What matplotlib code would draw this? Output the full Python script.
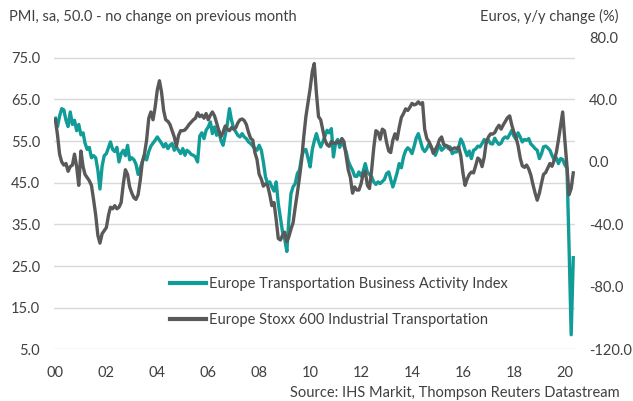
import matplotlib
matplotlib.use('Agg')
import matplotlib.pyplot as plt
import matplotlib.dates as mdates
from matplotlib.ticker import FormatStrFormatter
import numpy as np
import pandas as pd

# monthly data, Jan 2000 - May 2020
pmi = [
    60.5, 58.5, 61.0, 62.8, 62.5, 60.0, 58.5, 62.0, 59.0, 60.0, 57.5, 59.0,  # 2000
    56.5, 57.0, 54.5, 53.0, 53.5, 51.0, 51.5, 51.0, 48.0, 43.5, 49.0, 51.5,  # 2001
    52.0, 53.5, 54.8, 53.0, 52.5, 53.5, 50.0, 52.0, 52.8, 51.5, 54.0, 50.5,  # 2002
    51.0, 50.5, 49.5, 47.0, 48.5, 50.0, 51.5, 50.5, 52.5, 53.8, 54.5, 55.2,  # 2003
    56.0, 55.2, 54.5, 53.6, 54.4, 53.2, 54.0, 54.4, 52.8, 53.6, 52.8, 52.0,  # 2004
    53.2, 51.6, 52.8, 52.4, 51.8, 51.6, 51.2, 50.0, 56.2, 57.0, 55.6, 57.6,  # 2005
    58.4, 59.6, 56.8, 58.4, 56.4, 57.6, 55.2, 54.0, 56.4, 59.0, 62.8, 60.0,  # 2006
    58.0, 57.2, 56.4, 56.0, 56.8, 56.0, 55.6, 54.8, 54.4, 53.8, 53.2, 52.8,  # 2007
    54.0, 52.8, 50.0, 46.4, 44.8, 45.2, 44.0, 43.0, 45.2, 40.0, 36.5, 33.2,  # 2008
    31.5, 28.5, 36.0, 42.4, 44.0, 44.8, 47.2, 48.0, 51.2, 52.8, 53.0, 51.0,  # 2009
    48.8, 53.0, 55.0, 56.8, 55.0, 53.6, 54.8, 56.2, 57.6, 57.0, 58.0, 51.2,  # 2010
    54.6, 55.4, 53.5, 54.8, 53.8, 52.5, 50.2, 49.0, 48.0, 46.6, 46.5, 47.6,  # 2011
    46.6, 47.8, 49.6, 47.5, 47.0, 46.4, 45.2, 44.6, 45.2, 44.8, 45.3, 45.8,  # 2012
    47.2, 47.6, 45.8, 44.0, 45.6, 47.4, 49.6, 48.6, 51.2, 52.7, 53.4, 52.9,  # 2013
    52.0, 53.8, 55.7, 56.8, 55.0, 53.2, 52.5, 53.2, 54.3, 53.5, 52.8, 51.6,  # 2014
    53.0, 54.0, 52.8, 53.3, 54.0, 53.3, 53.6, 52.0, 52.4, 52.4, 53.6, 55.5,  # 2015
    54.5, 52.8, 51.5, 52.6, 50.8, 52.8, 53.1, 53.8, 53.6, 54.4, 55.4, 54.6,  # 2016
    55.2, 54.4, 54.3, 55.7, 54.8, 54.2, 54.5, 55.6, 56.0, 55.7, 56.6, 57.6,  # 2017
    56.2, 55.4, 57.0, 56.0, 54.8, 55.4, 55.2, 55.6, 54.3, 53.8, 53.2, 52.8,  # 2018
    50.8, 52.0, 53.6, 53.8, 53.4, 52.8, 51.6, 50.5, 51.0, 49.6, 50.8, 50.6,  # 2019
    49.3, 48.5, 30.0, 8.5, 27.0,                                             # 2020
]

stoxx = [
    27, 17, 5, 0, -2, -1, -6, -3, -2, 5, -3, -15,                 # 2000
    7, -3, -8, -10, -12, -15, -24, -34, -47, -52, -46, -44,       # 2001
    -42, -34, -29, -30, -28, -30, -29, -26, -14, -5, -8, -16,     # 2002
    -20, -23, -24, -21, -12, 0, 5, 14, 28, 32, 27, 35,            # 2003
    46, 52, 45, 33, 27, 26, 24, 20, 16, 10, 17, 20,               # 2004
    20, 20.5, 22, 24, 25.5, 27, 28, 31.5, 29, 30, 28, 31,         # 2005
    27, 30, 32, 29.5, 25, 20, 16, 19, 23, 21, 20, 22,             # 2006
    21, 22, 25, 27, 27.5, 26.5, 24, 19, 15, 14, 6, 1.5,           # 2007
    -8, -11, -15.5, -14, -15, -21, -28, -26, -37, -49, -50, -47,  # 2008
    -45, -51, -48, -43, -39, -29, -20, -10, 1, 16, 29, 38,        # 2009
    47, 58, 63, 44, 29, 27, 20.5, 14, 11, 10, 13, 12,             # 2010
    12, 13, 12, 15, 13, 4, -5, -10, -20, -16, -18, -18,           # 2011
    -14, -7.5, -6, -15, -17, -5, 9, 20, 19, 14.5, 21, 20,         # 2012
    12.5, 7, 6, 14, 18, 14.5, 22, 28.5, 31, 34, 33, 35,           # 2013
    37.5, 36.5, 37, 38.5, 37, 38, 21, 15, 13, 10, 5.5, 8,         # 2014
    10.5, 14.5, 16, 11, 10.5, 10, 7.8, 8.2, 9, 8.7, 9.5, 4,       # 2015
    -7, -15, -11, -8, -6.5, -7, -2.5, 2.5, 1.3, -3, 3, 13,        # 2016
    16, 18, 17.8, 18.8, 21.5, 23.5, 21, 23.7, 26, 28.3, 29.5, 23.7,  # 2017
    19, 15.5, 10.5, 2.5, -2.5, -3.5, -2, -4.5, -8.5, -14.5, -20, -24.5,  # 2018
    -20, -13.5, -8, -6.8, -4, -1, -2.8, 1, 6, 14, 23, 32,         # 2019
    14, -3, -21, -17, -7,                                         # 2020
]

pmi_label = 'Europe Transportation Business Activity Index'
stoxx_label = 'Europe Stoxx 600 Industrial Transportation'

teal = '#119c97'
grey = '#595959'
txt = '#404040'

plt.rcParams['font.family'] = ['Lato', 'DejaVu Sans']
fs = 10.5

dates = pd.date_range('2000-01-01', periods=len(pmi), freq='MS')

fig = plt.figure(figsize=(6.33, 4.01), dpi=100)
ax = fig.add_axes([0.0853, 0.1289, 0.8231, 0.7788])
ax2 = ax.twinx()

l1, = ax.plot(dates, pmi, color=teal, lw=2.4, solid_joinstyle='round')
l2, = ax2.plot(dates, stoxx, color=grey, lw=2.4, solid_joinstyle='round')

ax.set_ylim(5, 80)
ax.set_yticks(np.arange(5, 76, 10))
ax.yaxis.set_major_formatter(FormatStrFormatter('%.1f'))
ax2.set_ylim(-120, 80)
ax2.set_yticks(np.arange(-120, 81, 40))
ax2.yaxis.set_major_formatter(FormatStrFormatter('%.1f'))

ax.set_xlim(pd.Timestamp('1999-12-12'), pd.Timestamp('2020-05-26'))
ax.xaxis.set_major_locator(mdates.YearLocator(2))
ax.xaxis.set_major_formatter(mdates.DateFormatter('%y'))

ax.grid(axis='y', color='#d9d9d9', lw=1)
ax.set_axisbelow(True)
for a in (ax, ax2):
    for s in a.spines.values():
        s.set_visible(False)
    a.tick_params(length=0, labelsize=fs, colors=txt)
ax.tick_params(axis='y', pad=10)
ax2.tick_params(axis='y', pad=10)
ax.tick_params(axis='x', pad=12)

leg = fig.legend([l1, l2], [pmi_label, stoxx_label], loc='center left',
                 bbox_to_anchor=(0.2686, 0.2464), frameon=False, fontsize=fs,
                 handlelength=2.45, handletextpad=0.25, labelspacing=1.5,
                 borderpad=0, borderaxespad=0, labelcolor=txt)
for line in leg.get_lines():
    line.set_linewidth(3)

fig.text(9 / 633, 0.947, 'PMI, sa, 50.0 - no change on previous month',
         ha='left', va='baseline', fontsize=fs, color=txt)
fig.text(619 / 633, 0.948, 'Euros, y/y change (%)',
         ha='right', va='baseline', fontsize=fs, color=txt)
fig.text(620 / 633, 0.009, 'Source: IHS Markit, Thompson Reuters Datastream',
         ha='right', va='baseline', fontsize=fs, color=txt)

fig.savefig('out.png', dpi=100)
